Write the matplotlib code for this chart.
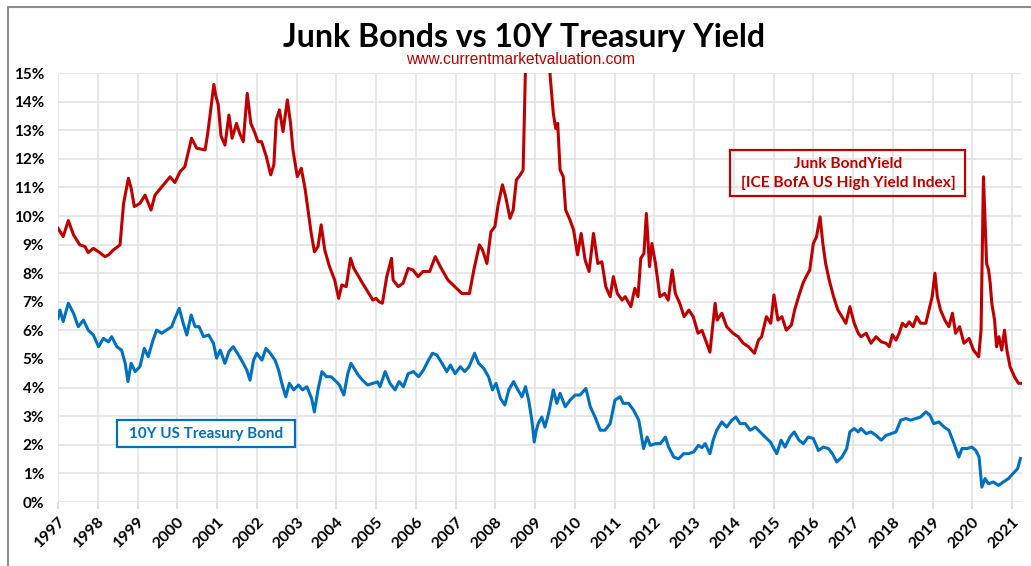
"""Junk bond yield vs 10Y Treasury yield, 1997 - early 2021."""
import numpy as np
import matplotlib

matplotlib.use("Agg")
import matplotlib.pyplot as plt  # noqa: E402
from matplotlib.patches import Rectangle  # noqa: E402
from matplotlib.lines import Line2D  # noqa: E402

# ICE BofA US High Yield Index effective yield (%)
junk_t = [1997.00, 1997.13, 1997.26, 1997.39, 1997.55, 1997.68, 1997.76, 1997.89,
          1998.02, 1998.18, 1998.27, 1998.39, 1998.56, 1998.65, 1998.77, 1998.84,
          1998.92, 1999.06, 1999.19, 1999.34, 1999.44, 1999.61, 1999.82, 1999.94,
          2000.07, 2000.19, 2000.36, 2000.49, 2000.70, 2000.76, 2000.82, 2000.92,
          2000.97, 2001.03, 2001.10, 2001.20, 2001.30, 2001.38, 2001.49, 2001.57,
          2001.66, 2001.76, 2001.85, 2001.94, 2002.03, 2002.12, 2002.24, 2002.35,
          2002.43, 2002.49, 2002.57, 2002.66, 2002.77, 2002.85, 2002.91, 2003.02,
          2003.12, 2003.22, 2003.30, 2003.37, 2003.45, 2003.54, 2003.62, 2003.71,
          2003.83, 2003.96, 2004.06, 2004.14, 2004.25, 2004.36, 2004.44, 2004.54,
          2004.66, 2004.79, 2004.92, 2005.00, 2005.08, 2005.16, 2005.27, 2005.39,
          2005.43, 2005.56, 2005.68, 2005.81, 2005.93, 2006.06, 2006.18, 2006.35,
          2006.49, 2006.64, 2006.81, 2006.98, 2007.16, 2007.35, 2007.46, 2007.60,
          2007.68, 2007.79, 2007.89, 2007.99, 2008.07, 2008.18, 2008.26, 2008.37,
          2008.45, 2008.53, 2008.63, 2008.70, 2008.73, 2008.78, 2008.85, 2008.95,
          2009.05, 2009.15, 2009.22, 2009.30, 2009.38, 2009.46, 2009.52, 2009.57,
          2009.63, 2009.71, 2009.77, 2009.88, 2009.97, 2010.07, 2010.16, 2010.26,
          2010.36, 2010.47, 2010.58, 2010.68, 2010.78, 2010.89, 2010.97, 2011.07,
          2011.19, 2011.27, 2011.41, 2011.51, 2011.59, 2011.66, 2011.74, 2011.80,
          2011.88, 2011.94, 2012.03, 2012.14, 2012.26, 2012.35, 2012.45, 2012.53,
          2012.64, 2012.75, 2012.87, 2012.98, 2013.10, 2013.20, 2013.40, 2013.53,
          2013.58, 2013.70, 2013.82, 2013.98, 2014.11, 2014.24, 2014.37, 2014.52,
          2014.62, 2014.70, 2014.82, 2014.93, 2015.01, 2015.11, 2015.21, 2015.32,
          2015.45, 2015.53, 2015.63, 2015.74, 2015.82, 2015.91, 2016.00, 2016.08,
          2016.17, 2016.24, 2016.31, 2016.40, 2016.51, 2016.62, 2016.72, 2016.82,
          2016.92, 2017.03, 2017.13, 2017.20, 2017.33, 2017.45, 2017.58, 2017.71,
          2017.83, 2017.91, 2017.99, 2018.08, 2018.16, 2018.24, 2018.33, 2018.41,
          2018.51, 2018.60, 2018.70, 2018.83, 2018.91, 2018.99, 2019.06, 2019.12,
          2019.20, 2019.31, 2019.41, 2019.50, 2019.58, 2019.68, 2019.79, 2019.92,
          2020.03, 2020.16, 2020.22, 2020.28, 2020.32, 2020.36, 2020.41, 2020.45,
          2020.49, 2020.56, 2020.61, 2020.67, 2020.74, 2020.81, 2020.87, 2020.95,
          2021.06, 2021.16, 2021.23]
junk_y = [9.57, 9.28, 9.84, 9.34, 8.99, 8.93, 8.72, 8.87,
          8.75, 8.58, 8.64, 8.81, 8.99, 10.44, 11.32, 10.97,
          10.33, 10.44, 10.73, 10.21, 10.73, 11.02, 11.37, 11.17,
          11.55, 11.72, 12.72, 12.37, 12.31, 12.83, 13.47, 14.60,
          14.20, 13.90, 12.80, 12.48, 13.53, 12.72, 13.24, 12.89,
          12.60, 14.29, 13.24, 12.95, 12.60, 12.60, 12.08, 11.44,
          11.79, 13.36, 13.71, 12.95, 14.06, 13.24, 12.31, 11.38,
          11.67, 10.91, 10.09, 9.39, 8.75, 8.93, 9.69, 8.81,
          8.23, 7.76, 7.12, 7.59, 7.53, 8.52, 8.17, 7.94,
          7.65, 7.36, 7.06, 7.12, 7.00, 6.95, 7.88, 8.52,
          7.76, 7.53, 7.65, 8.17, 8.11, 7.88, 8.06, 8.06,
          8.58, 8.17, 7.76, 7.53, 7.29, 7.29, 8.11, 8.99,
          8.81, 8.34, 9.45, 9.63, 10.38, 11.09, 10.68, 9.92,
          10.21, 11.26, 11.44, 11.61, 13.36, 16.50, 19.00, 22.00,
          18.50, 18.00, 19.50, 17.00, 14.90, 13.59, 13.06, 13.24,
          11.61, 11.38, 10.21, 9.86, 9.51, 8.64, 9.39, 8.46,
          8.06, 9.39, 8.34, 8.40, 7.53, 7.18, 7.88, 7.29,
          7.06, 7.18, 6.83, 7.47, 7.18, 8.52, 8.69, 10.09,
          8.23, 9.04, 8.34, 7.18, 7.29, 7.06, 8.11, 7.29,
          6.95, 6.48, 6.71, 6.48, 5.90, 6.00, 5.24, 6.95,
          6.36, 6.60, 6.13, 5.90, 5.78, 5.55, 5.43, 5.20,
          5.66, 5.78, 6.48, 6.25, 7.24, 6.36, 6.48, 6.01,
          6.19, 6.71, 7.18, 7.65, 7.88, 8.11, 9.04, 9.27,
          9.97, 9.04, 8.34, 7.76, 7.18, 6.71, 6.48, 6.25,
          6.83, 6.25, 5.90, 5.78, 5.90, 5.55, 5.78, 5.60,
          5.55, 5.43, 5.85, 5.66, 5.90, 6.25, 6.13, 6.30,
          6.13, 6.48, 6.25, 6.25, 6.71, 7.18, 8.00, 7.18,
          6.71, 6.36, 6.13, 6.60, 5.90, 6.13, 5.55, 5.72,
          5.31, 5.08, 6.01, 11.37, 9.85, 8.34, 8.11, 7.65,
          6.95, 6.36, 5.43, 5.78, 5.31, 6.01, 5.31, 4.73,
          4.38, 4.15, 4.15]

# 10-year US Treasury yield (%)
tsy_t = [1997.00, 1997.05, 1997.13, 1997.26, 1997.39, 1997.51, 1997.64, 1997.76,
         1997.89, 1998.02, 1998.14, 1998.27, 1998.35, 1998.48, 1998.60, 1998.69,
         1998.76, 1998.84, 1998.94, 1999.06, 1999.17, 1999.27, 1999.39, 1999.48,
         1999.61, 1999.73, 1999.86, 1999.94, 2000.05, 2000.15, 2000.24, 2000.35,
         2000.45, 2000.55, 2000.66, 2000.79, 2000.91, 2000.99, 2001.08, 2001.20,
         2001.30, 2001.41, 2001.54, 2001.66, 2001.75, 2001.83, 2001.92, 2002.00,
         2002.13, 2002.23, 2002.34, 2002.46, 2002.55, 2002.63, 2002.73, 2002.82,
         2002.93, 2003.05, 2003.15, 2003.26, 2003.38, 2003.45, 2003.54, 2003.64,
         2003.75, 2003.87, 2004.00, 2004.08, 2004.19, 2004.29, 2004.37, 2004.45,
         2004.55, 2004.66, 2004.79, 2004.92, 2005.04, 2005.10, 2005.23, 2005.35,
         2005.48, 2005.58, 2005.69, 2005.81, 2005.94, 2006.07, 2006.19, 2006.32,
         2006.42, 2006.53, 2006.66, 2006.78, 2006.87, 2006.99, 2007.12, 2007.23,
         2007.34, 2007.48, 2007.58, 2007.71, 2007.83, 2007.93, 2008.02, 2008.13,
         2008.24, 2008.34, 2008.46, 2008.57, 2008.67, 2008.76, 2008.84, 2008.92,
         2008.98, 2009.03, 2009.08, 2009.17, 2009.25, 2009.34, 2009.46, 2009.55,
         2009.63, 2009.76, 2009.88, 2010.01, 2010.13, 2010.28, 2010.39, 2010.51,
         2010.64, 2010.76, 2010.89, 2011.01, 2011.14, 2011.22, 2011.35, 2011.48,
         2011.61, 2011.73, 2011.82, 2011.90, 2012.03, 2012.15, 2012.28, 2012.36,
         2012.49, 2012.61, 2012.74, 2012.86, 2012.99, 2013.11, 2013.20, 2013.28,
         2013.40, 2013.48, 2013.57, 2013.70, 2013.82, 2013.95, 2014.05, 2014.16,
         2014.29, 2014.41, 2014.54, 2014.66, 2014.79, 2014.92, 2015.08, 2015.19,
         2015.29, 2015.41, 2015.52, 2015.64, 2015.75, 2015.87, 2016.00, 2016.13,
         2016.25, 2016.38, 2016.48, 2016.59, 2016.72, 2016.84, 2016.92, 2017.03,
         2017.13, 2017.20, 2017.33, 2017.45, 2017.58, 2017.71, 2017.83, 2017.96,
         2018.08, 2018.20, 2018.33, 2018.45, 2018.58, 2018.70, 2018.83, 2018.93,
         2019.03, 2019.16, 2019.29, 2019.41, 2019.54, 2019.66, 2019.74, 2019.87,
         2019.99, 2020.09, 2020.17, 2020.24, 2020.32, 2020.41, 2020.53, 2020.66,
         2020.78, 2020.91, 2021.03, 2021.14, 2021.21]
tsy_y = [6.42, 6.71, 6.31, 6.95, 6.60, 6.13, 6.36, 6.01,
         5.84, 5.43, 5.72, 5.60, 5.78, 5.43, 5.31, 4.85,
         4.21, 4.85, 4.56, 4.73, 5.37, 5.08, 5.66, 6.01,
         5.90, 6.01, 6.13, 6.42, 6.77, 6.25, 5.84, 6.54,
         6.13, 6.13, 5.78, 5.84, 5.55, 5.03, 5.31, 4.85,
         5.26, 5.43, 5.14, 4.85, 4.61, 4.26, 4.96, 5.20,
         4.96, 5.37, 5.20, 4.96, 4.61, 4.15, 3.68, 4.15,
         3.92, 4.09, 3.92, 4.03, 3.62, 3.15, 3.92, 4.56,
         4.38, 4.38, 4.21, 4.09, 3.74, 4.49, 4.85, 4.67,
         4.44, 4.26, 4.09, 4.15, 4.20, 4.03, 4.56, 4.15,
         3.92, 4.21, 4.03, 4.49, 4.56, 4.38, 4.61, 4.96,
         5.20, 5.14, 4.85, 4.56, 4.79, 4.49, 4.73, 4.56,
         4.73, 5.20, 4.85, 4.67, 4.38, 3.92, 4.15, 3.62,
         3.39, 3.92, 4.21, 3.92, 3.68, 4.03, 3.56, 2.86,
         2.10, 2.50, 2.74, 2.97, 2.62, 3.09, 3.92, 3.45,
         3.80, 3.33, 3.56, 3.74, 3.74, 3.97, 3.33, 2.97,
         2.51, 2.51, 2.74, 3.56, 3.68, 3.45, 3.45, 3.21,
         2.86, 1.87, 2.27, 1.98, 2.04, 2.04, 2.27, 1.92,
         1.57, 1.51, 1.69, 1.69, 1.75, 1.98, 1.90, 2.04,
         1.69, 2.16, 2.51, 2.80, 2.62, 2.86, 2.97, 2.74,
         2.74, 2.51, 2.62, 2.45, 2.27, 2.10, 1.69, 2.16,
         1.92, 2.27, 2.45, 2.16, 2.04, 2.27, 2.22, 1.80,
         1.92, 1.87, 1.69, 1.40, 1.57, 1.87, 2.45, 2.57,
         2.45, 2.57, 2.39, 2.45, 2.33, 2.16, 2.33, 2.39,
         2.45, 2.86, 2.92, 2.86, 2.92, 2.97, 3.15, 3.04,
         2.74, 2.80, 2.62, 2.51, 2.04, 1.57, 1.87, 1.87,
         1.92, 1.80, 1.57, 0.52, 0.82, 0.64, 0.70, 0.58,
         0.70, 0.82, 1.00, 1.17, 1.52]

years = list(range(1997, 2022))
pct_ticks = list(range(0, 16))

RED = "#C00000"
BLUE = "#0070C0"
FONT = "Lato"

W, H = 1031, 566
fig = plt.figure(figsize=(W / 100, H / 100), dpi=100)
ax = fig.add_axes([58 / W, 1 - 502 / H, (1022 - 58) / W, (502 - 73) / H])

ax.plot(junk_t, junk_y, color=RED, lw=2.2, solid_joinstyle="round")
ax.plot(tsy_t, tsy_y, color=BLUE, lw=2.2, solid_joinstyle="round")

ax.set_xlim(1997, 2021.25)
ax.set_ylim(0, 15)
ax.set_xticks(years)
ax.set_xticklabels([str(y) for y in years], rotation=45, ha="right",
                   rotation_mode="anchor", fontsize=11.5, fontweight="bold",
                   family=FONT)
ax.set_yticks(pct_ticks)
ax.set_yticklabels([f"{p}%" for p in pct_ticks], fontsize=11,
                   fontweight="bold", family=FONT)
ax.tick_params(axis="y", length=0, pad=10)
ax.tick_params(axis="x", length=5, color="#d9d9d9", width=1.2, pad=4)
ax.grid(True, color="#e3e3e3", lw=1.2)
ax.set_axisbelow(True)
for sp in ax.spines.values():
    sp.set_visible(False)

# title and source
fig.text(524 / W, 1 - 37 / H, "Junk Bonds vs 10Y Treasury Yield", ha="center",
         va="center", fontsize=23, fontweight="bold", family=FONT)
fig.text(521 / W, 1 - 59 / H, "www.currentmarketvaluation.com", ha="center",
         va="center", fontsize=11.2, color=RED, family="Liberation Sans")

# labelled boxes
fig.patches.append(Rectangle((730 / W, 1 - 196 / H), 235 / W, 46 / H,
                             transform=fig.transFigure, fill=False,
                             edgecolor=RED, lw=1.6))
fig.text(848 / W, 1 - 164 / H, "Junk BondYield", ha="center", va="center",
         fontsize=11.2, fontweight="bold", color=RED, family=FONT)
fig.text(848 / W, 1 - 183 / H, "[ICE BofA US High Yield Index]", ha="center",
         va="center", fontsize=11.2, fontweight="bold", color=RED, family=FONT)
fig.patches.append(Rectangle((117 / W, 1 - 447 / H), 178 / W, 27 / H,
                             transform=fig.transFigure, facecolor="white",
                             edgecolor=BLUE, lw=1.6))
fig.text(206 / W, 1 - 434 / H, "10Y US Treasury Bond", ha="center", va="center",
         fontsize=11, fontweight="bold", color=BLUE, family=FONT)

# outer frame (left and top edges of the screenshot)
fig.lines.append(Line2D([8 / W, 8 / W, 1.0], [0, 1 - 7 / H, 1 - 7 / H],
                        transform=fig.transFigure, color="#8c8c8c", lw=1.5))

fig.savefig("out.png", dpi=100)
